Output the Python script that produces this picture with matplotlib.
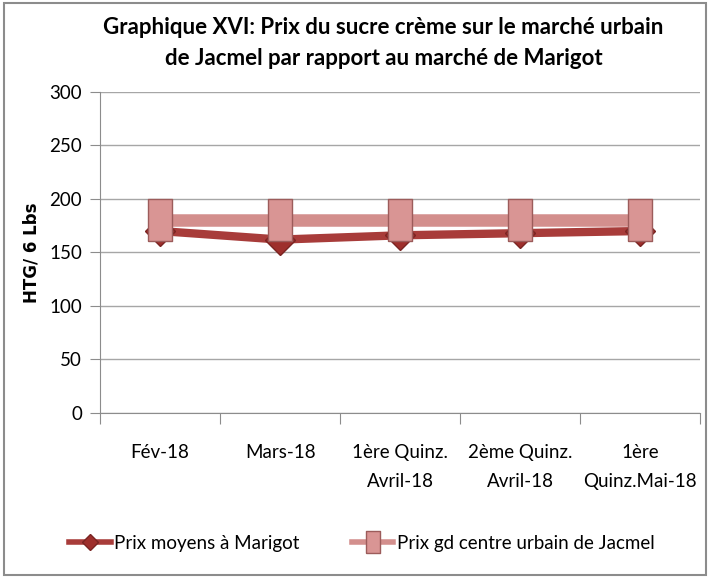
import matplotlib.pyplot as plt
from matplotlib.patches import Rectangle

plt.rcParams['font.family'] = ['Lato', 'DejaVu Sans']

categories = ["Fév-18", "Mars-18", "1ère Quinz.\nAvril-18", "2ème Quinz.\nAvril-18", "1ère\nQuinz.Mai-18"]
marigot = [170, 162, 166, 168, 170]
jacmel = [180, 180, 180, 180, 180]
yticks = [0, 50, 100, 150, 200, 250, 300]

fig = plt.figure(figsize=(7.10, 5.78), dpi=100)
fig.patches.append(Rectangle((0.005, 0.005), 0.99, 0.99, transform=fig.transFigure,
                             fill=False, edgecolor="#8c8c8c", lw=1.5))
ax = fig.add_axes([0.141, 0.2855, 0.845, 0.5555])

x = list(range(len(categories)))
rect = [(-0.6, -1), (0.6, -1), (0.6, 1), (-0.6, 1), (-0.6, -1)]
ax.plot(x, marigot, color="#A83C3A", lw=6, marker="D", markersize=15,
        markerfacecolor="#9E2F2C", markeredgecolor="#7a2422", label="Prix moyens à Marigot", zorder=3)
ax.plot(x, jacmel, color="#D38F8D", lw=9, marker=rect, markersize=30,
        markerfacecolor="#D99594", markeredgecolor="#9c5c5b", markeredgewidth=1,
        label="Prix gd centre urbain de Jacmel", zorder=4)

ax.set_xlim(-0.5, 4.5)
ax.set_ylim(0, 300)
ax.set_yticks(yticks)
ax.set_xticks([i + 0.5 for i in range(-1, 5)], minor=False)
ax.set_xticklabels([])
ax.set_xticks(x, minor=True)
ax.set_xticklabels(categories, minor=True, fontsize=13.5, linespacing=1.9, va="top")
ax.tick_params(axis="x", which="minor", length=0, pad=22)
ax.tick_params(axis="x", which="major", length=8, color="#8c8c8c", direction="out")
ax.tick_params(axis="y", length=7, color="#8c8c8c", labelsize=13.5, pad=6)
ax.yaxis.grid(True, color="#a6a6a6", lw=1)
ax.set_axisbelow(True)
for s in ["top", "right"]:
    ax.spines[s].set_visible(False)
for s in ["left", "bottom"]:
    ax.spines[s].set_color("#8c8c8c")

ax.set_ylabel("HTG/ 6 Lbs", fontsize=12, fontweight="bold", family="DejaVu Sans", labelpad=6)
fig.text(0.54, 0.925, "Graphique XVI: Prix du sucre crème sur le marché urbain\nde Jacmel par rapport au marché de Marigot",
         ha="center", va="center", fontsize=16, linespacing=1.6, weight="bold")

leg = fig.legend(loc="center", bbox_to_anchor=(0.51, 0.06), ncol=2, frameon=False,
                 fontsize=13.5, handlelength=2.2, columnspacing=2.8, markerscale=0.55, handletextpad=0.2)
for h in leg.legend_handles:
    h.set_linewidth(4)

fig.savefig("out.png", dpi=100)
